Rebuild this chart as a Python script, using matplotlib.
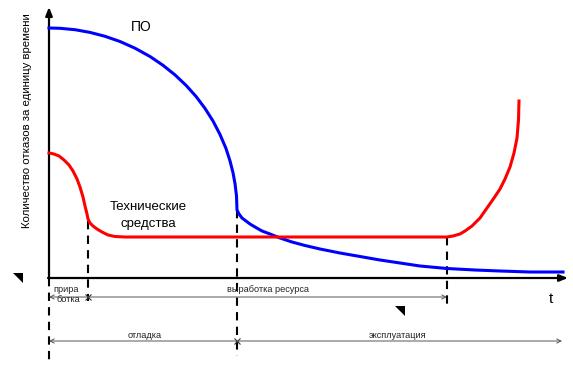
"""Failure rate over time sketch: software (ПО) vs hardware (Технические средства)."""

import matplotlib

matplotlib.use("Agg")
import matplotlib.pyplot as plt
from matplotlib.path import Path

plt.rcParams["font.family"] = ["Liberation Sans", "DejaVu Sans"]

# chart is drawn in picture units: x to the right, y downward (origin top-left)
ORIGIN_X = 49
AXIS_Y = 278
X_END = 568
Y_TOP = 7

# software (ПО) failure rate curve
po_x = [49, 60, 75, 90, 105, 120, 135, 150, 163, 175, 186, 196, 205, 213,
        220, 226, 230, 233, 235, 236.5, 237,
        239, 242, 246, 250, 255, 262, 270, 280, 292, 305, 320, 340, 360,
        380, 400, 420, 447, 475, 500, 530, 563]
po_y = [28, 28.3, 29.7, 32.4, 36.3, 41.5, 48.2, 56.5, 65.3, 74.9, 85.3, 96.4,
        108.4, 121, 134.5, 148.5, 160.9, 172.7, 183.6, 196, 210,
        214, 218, 221, 224, 227, 231, 234, 238, 242, 245.5, 249, 253, 256.5,
        260, 263, 266, 268.5, 270, 271, 272, 272]

# hardware (Технические средства) failure rate curve
hw_x = [49, 54, 59, 64, 69, 73, 77, 80, 83, 85, 87, 88, 90, 93, 97, 102,
        108, 115, 125,
        447, 453, 460, 465, 472, 480, 487, 494, 500, 505, 510, 514, 517,
        518.5, 519]
hw_y = [153, 154, 156, 160, 165, 171, 179, 187, 197, 206, 214, 219, 223,
        226, 229, 232, 235, 236.5, 237,
        237, 236, 234, 231, 226, 218, 208, 198, 189, 179, 167, 153, 138,
        120, 101]

# phase boundaries (x) and dashed guide extents (top, bottom)
bound_x = [49, 88, 237, 447]
bound_top = [278, 221, 210, 237]
bound_bottom = [365, 301, 356, 305]

# dimension lines: (y, x start, x end)
dim_rows = [(297, 49, 447), (341, 49, 562)]
dim_labels = [
    ("прира", 66, 289),
    ("ботка", 68, 299),
    ("выработка ресурса", 268, 289),
    ("отладка", 145, 336),
    ("эксплуатация", 398, 336),
]
cross_pts = [(88, 297), (237, 341)]
stray_marks = [(18, 278), (400, 311)]

fig = plt.figure(figsize=(5.73, 3.71), dpi=100)
ax = fig.add_axes([0, 0, 1, 1])
ax.set_xlim(0, 573)
ax.set_ylim(371, 0)
ax.axis("off")

# axes with arrows
ax.annotate("", xy=(ORIGIN_X, Y_TOP), xytext=(ORIGIN_X, AXIS_Y + 1),
            arrowprops=dict(arrowstyle="-|>,head_length=0.5,head_width=0.2",
                            lw=1.6, color="black", shrinkA=0, shrinkB=0))
ax.annotate("", xy=(X_END, AXIS_Y), xytext=(ORIGIN_X - 1, AXIS_Y),
            arrowprops=dict(arrowstyle="-|>,head_length=0.5,head_width=0.2",
                            lw=1.6, color="black", shrinkA=0, shrinkB=0))

# dashed phase boundaries
for bx, top, bot in zip(bound_x, bound_top, bound_bottom):
    ax.plot([bx, bx], [top, bot], color="black", lw=1.5,
            linestyle=(0, (4, 3)), zorder=2)

# curves
ax.plot(po_x, po_y, color="#0000ff", lw=2.2, solid_joinstyle="round", zorder=3)
ax.plot(hw_x, hw_y, color="#ff0000", lw=2.2, solid_joinstyle="round", zorder=3)

# dimension lines
for y, x0, x1 in dim_rows:
    ax.annotate("", xy=(x1, y), xytext=(x0, y),
                arrowprops=dict(arrowstyle="<->,head_length=0.3,head_width=0.15",
                                lw=0.7, color="#555555", shrinkA=0, shrinkB=0))
for text, x, y in dim_labels:
    ax.text(x, y, text, fontsize=6.6, ha="center", va="center", color="#222222")
for cx, cy in cross_pts:
    ax.plot(cx, cy, marker="x", ms=5, mew=0.8, color="#333333")

# small stray triangle marks
tri = Path([(-1, 1), (1, 1), (1, -1), (-1, 1)],
           [Path.MOVETO, Path.LINETO, Path.LINETO, Path.CLOSEPOLY])
for sx, sy in stray_marks:
    ax.plot(sx, sy, marker=tri, ms=7, color="black", mew=0)

# labels
ax.text(141, 27, "ПО", fontsize=10, ha="center", va="center")
ax.text(148, 207, "Технические", fontsize=9.5, ha="center", va="center")
ax.text(148, 224, "средства", fontsize=9.5, ha="center", va="center")
ax.text(551, 299, "t", fontsize=11, ha="center", va="center")
ax.text(27, 121, "Количество отказов за единицу времени", fontsize=8.2,
        rotation=90, ha="center", va="center")

fig.savefig("out.png", dpi=100)
